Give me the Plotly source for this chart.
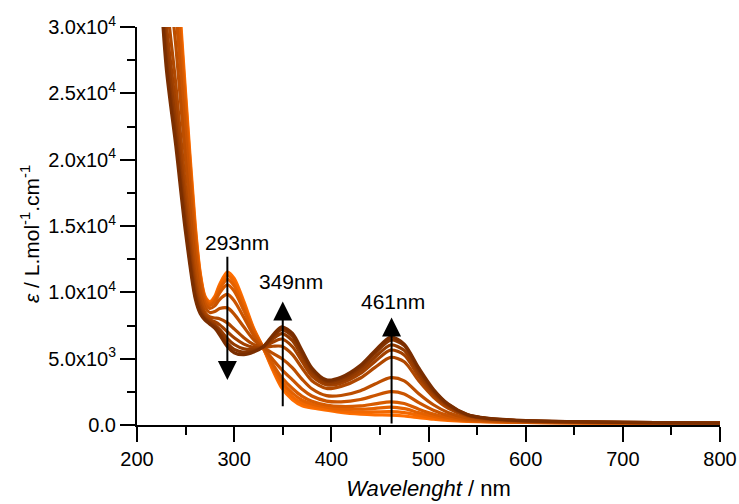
import plotly.graph_objects as go

wavelength = [220, 230, 240, 250, 260, 265, 270, 275, 280, 285, 293, 300, 310, 320, 330, 340, 349, 360, 370, 380,
              395, 410, 430, 445, 461, 475, 490, 505, 520, 540, 560, 600, 650, 700, 800]

spectrum_00 = [52000, 44000, 35500, 25000, 15000, 11500, 9700, 9300, 9700, 10600, 11530, 11050, 9300, 7300, 5800, 4100, 2800, 1900, 1450, 1280,
               1120, 950, 820, 770, 750, 680, 560, 440, 350, 280, 240, 190, 160, 150, 130]
spectrum_01 = [51400, 43200, 34850, 24500, 14750, 11360, 9620, 9220, 9590, 10430, 11280, 10800, 9120, 7220, 5800, 4220, 3010, 2120, 1640, 1420,
               1220, 1070, 990, 990, 1010, 930, 730, 540, 410, 300, 250, 195, 164, 152, 131]
spectrum_02 = [50600, 42300, 34050, 23950, 14450, 11190, 9520, 9130, 9460, 10220, 10970, 10490, 8900, 7120, 5810, 4370, 3260, 2400, 1865, 1580,
               1350, 1215, 1190, 1250, 1340, 1230, 935, 665, 475, 330, 270, 204, 169, 155, 132]
spectrum_03 = [49620, 41110, 33035, 23215, 14065, 10973, 9394, 9011, 9292, 9954, 10573, 10098, 8620, 6994, 5817, 4559, 3582, 2750, 2156, 1793,
               1508, 1401, 1446, 1591, 1750, 1618, 1196, 824, 563, 368, 288, 214, 175, 159, 133]
spectrum_04 = [47800, 38900, 31150, 21850, 13350, 10570, 9160, 8790, 8980, 9460, 9841, 9370, 8100, 6760, 5830, 4910, 4180, 3400, 2695, 2186,
               1804, 1745, 1924, 2219, 2514, 2336, 1682, 1118, 725, 436, 324, 232, 187, 165, 136]
spectrum_05 = [45280, 35840, 28540, 19960, 12360, 10012, 8836, 8484, 8548, 8776, 8828, 8362, 7380, 6436, 5848, 5396, 5008, 4300, 3442, 2730,
               2214, 2222, 2586, 3088, 3572, 3330, 2355, 1525, 950, 530, 374, 257, 203, 174, 140]
spectrum_06 = [42480, 32440, 25640, 17860, 11260, 9392, 8476, 8144, 8068, 8016, 7702, 7242, 6580, 6076, 5868, 5936, 5928, 5300, 4272, 3334,
               2750, 2911, 3543, 4344, 5101, 4765, 3328, 2112, 1275, 665, 447, 294, 221, 184, 144]
spectrum_07 = [40800, 30400, 23900, 16600, 10600, 9020, 8260, 7940, 7780, 7560, 7026, 6570, 6100, 5860, 5880, 6260, 6480, 5900, 4770, 3696,
               3020, 3157, 3885, 4793, 5648, 5278, 3675, 2323, 1391, 713, 473, 307, 235, 192, 147]
spectrum_08 = [39540, 28870, 22595, 15655, 10105, 8741, 8098, 7787, 7564, 7218, 6519, 6066, 5740, 5698, 5889, 6503, 6894, 6350, 5144, 3968,
               3160, 3330, 4125, 5107, 6030, 5637, 3919, 2469, 1473, 747, 491, 316, 241, 195, 148]
spectrum_09 = [38630, 27765, 21652, 14972, 9747, 8539, 7981, 7676, 7408, 6971, 6153, 5702, 5480, 5581, 5896, 6679, 7193, 6675, 5413, 4164,
               3310, 3497, 4356, 5412, 6401, 5985, 4154, 2612, 1551, 780, 509, 325, 246, 198, 149]
spectrum_10 = [38000, 27000, 21000, 14500, 9500, 8400, 7900, 7600, 7300, 6800, 5900, 5450, 5300, 5500, 5900, 6800, 7400, 6900, 5600, 4300,
               3400, 3600, 4500, 5600, 6630, 6100, 4300, 2700, 1600, 800, 520, 330, 250, 200, 150]

spectra = [spectrum_00, spectrum_01, spectrum_02, spectrum_03, spectrum_04, spectrum_05,
           spectrum_06, spectrum_07, spectrum_08, spectrum_09, spectrum_10]
colors = ["#FF6E00", "#F26800", "#E46100", "#D75B00", "#CA5400", "#BC4E00",
          "#AF4800", "#A24100", "#943B00", "#873400", "#7A2E00"]

y_tickvals = [0, 5000, 10000, 15000, 20000, 25000, 30000]
y_ticktext = ["0.0", "5.0x10<sup>3</sup>", "1.0x10<sup>4</sup>", "1.5x10<sup>4</sup>",
              "2.0x10<sup>4</sup>", "2.5x10<sup>4</sup>", "3.0x10<sup>4</sup>"]
x_tickvals = [200, 300, 400, 500, 600, 700, 800]

# annotation data: label, peak wavelength, text position, arrow start, arrow tip
peak_labels = ["293nm", "349nm", "461nm"]
peak_wl = [293, 350, 462]
label_x = [303, 358, 463]
label_y = [13750, 10850, 9300]
arrow_from = [12800, 1300, 0]
arrow_to = [3400, 9300, 8100]

FONT = "Liberation Sans, Arial, Helvetica, sans-serif"

fig = go.Figure()
for s, c in zip(spectra, colors):
    fig.add_trace(go.Scatter(x=wavelength, y=s, mode="lines",
                             line=dict(color=c, width=3.2, shape="spline", smoothing=0.8),
                             showlegend=False, hoverinfo="skip"))

for lab, wl, lx, ly, a0, a1 in zip(peak_labels, peak_wl, label_x, label_y, arrow_from, arrow_to):
    fig.add_annotation(x=wl, y=a1, ax=wl, ay=a0, xref="x", yref="y", axref="x", ayref="y",
                       text="", showarrow=True, arrowhead=2, arrowsize=1.9, arrowwidth=2,
                       arrowcolor="black", standoff=0)
    fig.add_annotation(x=lx, y=ly, xref="x", yref="y", text=lab, showarrow=False,
                       font=dict(family=FONT, size=21, color="black"))

# y-axis title as a rotated annotation
fig.add_annotation(x=-0.1835, y=0.48, xref="paper", yref="paper", textangle=-90,
                   xanchor="center", yanchor="middle",
                   text="<i>ε</i> / L.mol<sup>-1</sup>.cm<sup>-1</sup>", showarrow=False,
                   font=dict(family=FONT, size=21, color="black"))

axis_common = dict(showline=True, linewidth=2, linecolor="black", ticks="outside",
                   ticklen=15, tickwidth=2, tickcolor="black", showgrid=False, zeroline=False,
                   automargin=False, tickfont=dict(family=FONT, size=20, color="black"))

fig.update_xaxes(range=[200, 800], tickvals=x_tickvals,
                 minor=dict(ticks="outside", ticklen=8, tickwidth=2, tickcolor="black", dtick=50, tick0=200),
                 title=dict(text="<i>Wavelenght</i> / nm", font=dict(family=FONT, size=22, color="black"), standoff=12),
                 **axis_common)
fig.update_yaxes(range=[0, 30000], tickvals=y_tickvals, ticktext=y_ticktext,
                 minor=dict(ticks="outside", ticklen=8, tickwidth=2, tickcolor="black", dtick=2500, tick0=0),
                 **axis_common)

fig.update_layout(width=739, height=504, margin=dict(l=137, r=19, t=27, b=79),
                  plot_bgcolor="white", paper_bgcolor="white")

fig.write_html("out.html", config={"displayModeBar": False},
               post_script="document.body.style.margin='0px';document.body.style.overflow='hidden';")
